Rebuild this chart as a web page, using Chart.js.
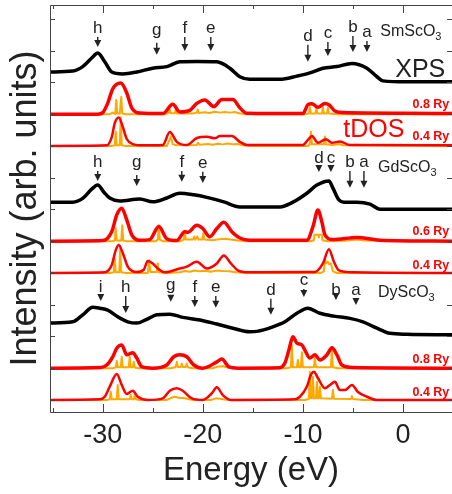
<!DOCTYPE html>
<html>
<head>
<meta charset="utf-8">
<script src="https://cdn.jsdelivr.net/npm/chart.js@4.4.1/dist/chart.umd.min.js"></script>
<style>
  body { margin: 0; background: #fff; }
  #wrap { width: 452px; height: 494px; }
</style>
</head>
<body>
<div id="wrap"><canvas id="chart" width="452" height="494"></canvas></div>
<script>
// energy (eV), intensity (offset, arb. units) pairs
const smXps = [[-35.3,10.33],[-33,10.36],[-32,10.5],[-31.1,10.77],[-30.5,10.93],[-29.8,10.65],[-29.1,10.33],[-28,10.27],[-26.6,10.33],[-25,10.45],[-23.6,10.5],[-22.3,10.65],[-20.6,10.66],[-18.6,10.65],[-17.3,10.45],[-16.3,10.18],[-15.3,10.1],[-12.3,10.1],[-10.6,10.2],[-9.3,10.3],[-8,10.45],[-6.6,10.5],[-5.1,10.6],[-3.6,10.45],[-2.6,10.18],[-2,10.05],[0.4,10.02],[4.9,10.02]];
const smRed08 = [[-35.3,9.0],[-30.5,9.0],[-30.0,9.05],[-29.5,9.35],[-29.0,9.8],[-28.2,9.98],[-27.6,9.67],[-27.1,9.2],[-26.3,9.04],[-24.0,9.02],[-23.0,9.31],[-22.3,9.07],[-21.3,9.12],[-20.6,9.34],[-19.8,9.45],[-18.9,9.24],[-18.1,9.46],[-17.0,9.46],[-16.3,9.2],[-15.6,9.03],[-10.0,9.02],[-9.5,9.3],[-9.1,9.33],[-8.5,9.22],[-7.8,9.34],[-7.4,9.3],[-6.8,9.1],[-6.0,9.05],[0,9.03],[4.9,9.02]];
const smOrange08 = [[-35.3,9],[-29.3,9],[-29.0,9.05],[-28.75,9.0],[-28.65,9.45],[-28.55,9.02],[-28.3,9.02],[-28.15,9.55],[-28.05,9.02],[-27.7,9.0],[-23.8,9.0],[-23.4,9.05],[-23.3,9.15],[-23.2,9.03],[-22.8,9.03],[-22.7,9.15],[-22.6,9.02],[-21.0,9.02],[-20.6,9.05],[-20.5,9.15],[-20.4,9.04],[-19.8,9.06],[-19.3,9.04],[-18.8,9.08],[-18.3,9.05],[-17.8,9.07],[-17.3,9.05],[-16.8,9.07],[-16.3,9.02],[-15.5,9.0],[-9.8,9.0],[-9.4,9.02],[-9.3,9.22],[-9.2,9.02],[-8.75,9.02],[-8.65,9.2],[-8.55,9.02],[-8.1,9.02],[-8.0,9.22],[-7.9,9.02],[-7.6,9.02],[-7.5,9.2],[-7.4,9.02],[-6.5,9.0],[4.9,9.0]];
const smRed04 = [[-35.3,8.0],[-29.6,8.02],[-29.1,8.28],[-28.8,8.72],[-28.4,8.9],[-28.0,8.6],[-27.6,8.22],[-27.0,8.06],[-26.0,8.02],[-24.0,8.03],[-23.3,8.44],[-22.6,8.13],[-21.6,8.03],[-20.6,8.25],[-19.6,8.29],[-18.8,8.24],[-18.3,8.31],[-17.1,8.31],[-16.3,8.13],[-15.6,8.03],[-10.0,8.03],[-9.5,8.19],[-9.1,8.31],[-8.5,8.1],[-7.7,8.21],[-7.1,8.1],[-6.3,8.14],[-5.3,8.03],[4.9,8.02]];
const smOrange04 = [[-35.3,8],[-29.1,8],[-28.8,8.02],[-28.7,8.45],[-28.6,8.02],[-28.3,8.02],[-28.2,8.9],[-28.1,8.02],[-27.7,8.0],[-23.6,8.0],[-23.3,8.2],[-23.2,8.3],[-23.0,8.05],[-22.6,8.02],[-20.6,8.03],[-20.5,8.1],[-20.3,8.04],[-19.5,8.06],[-19.0,8.04],[-18.5,8.07],[-18.0,8.05],[-17.5,8.08],[-17.0,8.05],[-16.5,8.06],[-16.0,8.02],[-15.3,8.0],[-9.5,8.0],[-9.3,8.05],[-9.2,8.45],[-9.1,8.05],[-8.5,8.05],[-7.9,8.05],[-7.8,8.3],[-7.7,8.05],[-7.0,8.03],[-6.4,8.06],[-6.0,8.02],[4.9,8.0]];

const gdXps = [[-35.3,6.23],[-33,6.23],[-32,6.35],[-31.1,6.64],[-30.5,6.77],[-29.9,6.55],[-29.3,6.36],[-28.3,6.27],[-26.3,6.33],[-25,6.24],[-23.6,6.36],[-22.3,6.51],[-20.9,6.46],[-19.6,6.38],[-17.9,6.24],[-16.3,6.08],[-12.3,6.08],[-11,6.23],[-9.6,6.51],[-8.6,6.77],[-7.4,6.9],[-7.0,6.67],[-6.4,6.3],[-5.9,6.23],[-4.6,6.23],[-3.3,6.17],[-2.3,6.01],[4.9,6.01]];
const gdRed06 = [[-35.3,5.0],[-30.0,5.02],[-29.1,5.3],[-28.6,5.83],[-28.1,6.04],[-27.6,5.67],[-27.1,5.2],[-26.3,5.03],[-25.3,5.05],[-24.4,5.46],[-23.6,5.08],[-22.6,5.02],[-21.8,5.3],[-21.5,5.28],[-20.6,5.5],[-20.0,5.4],[-19.3,5.14],[-18.6,5.4],[-17.9,5.6],[-17.1,5.3],[-16.3,5.1],[-15.3,5.03],[-9.6,5.03],[-9.0,5.45],[-8.5,5.98],[-8.1,5.6],[-7.8,5.2],[-7.0,5.05],[-4.6,5.12],[-2.3,5.03],[4.9,5.0]];
const gdOrange06 = [[-35.3,5],[-29.1,5],[-28.8,5.02],[-28.7,5.4],[-28.6,5.02],[-28.15,5.02],[-28.05,5.5],[-27.95,5.02],[-27.6,5.0],[-24.7,5.0],[-24.5,5.05],[-24.4,5.5],[-24.3,5.05],[-24.0,5.0],[-22.2,5.0],[-21.9,5.05],[-21.8,5.3],[-21.7,5.05],[-21.0,5.05],[-20.85,5.15],[-20.75,5.05],[-20.55,5.15],[-20.45,5.05],[-20.05,5.05],[-19.95,5.25],[-19.85,5.05],[-19.0,5.03],[-18.4,5.06],[-17.8,5.08],[-17.2,5.05],[-16.5,5.02],[-15.5,5.0],[-9.2,5.0],[-8.9,5.03],[-8.85,5.2],[-8.45,5.2],[-8.4,5.12],[-8.35,5.2],[-8.1,5.2],[-8.05,5.03],[-7.5,5.0],[-5.5,5.02],[-4.6,5.05],[-3.8,5.02],[4.9,5.0]];
const gdRed04 = [[-35.3,4.0],[-29.8,4.02],[-29.1,4.25],[-28.7,4.72],[-28.4,4.88],[-28.0,4.63],[-27.5,4.2],[-26.6,4.03],[-25.9,4.1],[-25.5,4.38],[-25.0,4.3],[-24.5,4.14],[-23.8,4.02],[-22.3,4.14],[-21.6,4.2],[-20.6,4.35],[-19.6,4.14],[-18.6,4.3],[-17.9,4.55],[-17.2,4.3],[-16.5,4.08],[-15.5,4.02],[-8.8,4.03],[-8.0,4.3],[-7.4,4.75],[-6.9,4.35],[-6.4,4.08],[-5.0,4.02],[4.9,4.0]];
const gdOrange04 = [[-35.3,4],[-29.2,4],[-28.9,4.02],[-28.8,4.45],[-28.7,4.02],[-28.35,4.02],[-28.25,4.85],[-28.15,4.02],[-27.7,4.0],[-25.5,4.0],[-25.35,4.4],[-25.25,4.03],[-24.6,4.03],[-24.5,4.3],[-24.4,4.02],[-23.5,4.0],[-22.3,4.02],[-21.8,4.06],[-21.3,4.04],[-20.8,4.08],[-20.3,4.05],[-19.8,4.07],[-19.2,4.04],[-18.6,4.08],[-18.0,4.06],[-17.4,4.05],[-16.7,4.02],[-15.5,4.0],[-8.2,4.0],[-7.9,4.05],[-7.8,4.45],[-7.7,4.3],[-7.5,4.35],[-7.4,4.28],[-7.2,4.3],[-7.0,4.05],[-6.6,4.0],[4.9,4.0]];

const dyXps = [[-35.3,2.42],[-33,2.46],[-32,2.68],[-31,2.92],[-30.3,2.89],[-29.5,2.83],[-28.5,2.62],[-27.5,2.46],[-26.6,2.42],[-25.6,2.54],[-24.6,2.68],[-23.3,2.7],[-22,2.6],[-20.3,2.52],[-18.6,2.39],[-17,2.26],[-15.3,2.15],[-14.6,2.16],[-13,2.3],[-11.8,2.46],[-10.6,2.73],[-9.5,2.89],[-8.3,2.73],[-6.9,2.64],[-5.3,2.57],[-4,2.46],[-2.6,2.26],[-1.3,2.1],[0.4,2.07],[4.9,2.05]];
const dyRed08 = [[-35.3,1.0],[-30.2,1.02],[-29.6,1.1],[-29.0,1.36],[-28.6,1.63],[-28.1,1.73],[-27.6,1.42],[-27.0,1.49],[-26.6,1.32],[-26.1,1.05],[-25.0,1.0],[-23.6,1.1],[-22.9,1.36],[-22.3,1.42],[-21.6,1.36],[-20.9,1.1],[-20.0,1.0],[-18.6,1.2],[-18.1,1.29],[-17.4,1.04],[-16.5,1.0],[-12.3,1.01],[-11.8,1.16],[-11.4,1.57],[-11.0,1.99],[-10.6,1.79],[-10.1,1.73],[-9.8,1.57],[-9.3,1.32],[-8.8,1.42],[-8.3,1.26],[-7.6,1.42],[-7.1,1.64],[-6.6,1.42],[-6.1,1.1],[-5.0,1.02],[4.9,1.0]];
const dyOrange08 = [[-35.3,1],[-29.0,1],[-28.7,1.02],[-28.6,1.23],[-28.5,1.03],[-28.2,1.03],[-28.1,1.36],[-28.0,1.03],[-27.4,1.03],[-27.3,1.36],[-27.2,1.03],[-27.0,1.03],[-26.9,1.2],[-26.8,1.02],[-26.4,1.0],[-23.2,1.0],[-22.7,1.04],[-22.6,1.2],[-22.5,1.04],[-22.2,1.04],[-22.1,1.15],[-22.0,1.04],[-21.7,1.04],[-21.6,1.15],[-21.5,1.03],[-21.0,1.0],[-19.0,1.0],[-18.5,1.05],[-18.0,1.06],[-17.5,1.02],[-16.5,1.0],[-11.6,1.0],[-11.2,1.03],[-11.1,1.73],[-11.0,1.03],[-10.6,1.03],[-10.5,1.26],[-10.4,1.03],[-10.2,1.03],[-10.1,1.5],[-10.0,1.03],[-8.9,1.03],[-8.8,1.32],[-8.7,1.03],[-7.2,1.03],[-7.1,1.57],[-7.0,1.03],[-6.5,1.0],[4.9,1.0]];
const dyRed04 = [[-35.3,0],[-30.3,0.02],[-29.8,0.1],[-29.3,0.42],[-28.6,0.82],[-28.1,0.47],[-27.6,0.19],[-27.0,0.29],[-26.5,0.1],[-25.5,0.0],[-24.0,0.05],[-23.3,0.29],[-22.6,0.37],[-22.0,0.29],[-21.1,0.05],[-20.0,0.0],[-19.1,0.21],[-18.6,0.4],[-18.0,0.15],[-17.2,0.0],[-10.8,0.02],[-10.3,0.1],[-9.6,0.42],[-9.2,0.79],[-8.9,0.89],[-8.5,0.69],[-7.8,0.37],[-7.3,0.47],[-6.8,0.57],[-6.3,0.31],[-5.8,0.31],[-5.1,0.47],[-4.5,0.25],[-3.6,0.1],[-2.6,0.0],[4.9,0.0]];
const dyOrange04 = [[-35.3,0],[-29.6,0],[-29.3,0.02],[-29.2,0.25],[-29.1,0.02],[-28.6,0.02],[-28.5,0.47],[-28.4,0.02],[-27.3,0.02],[-27.2,0.16],[-27.1,0.02],[-26.9,0.02],[-26.8,0.16],[-26.7,0.02],[-26.3,0],[-23.6,0.0],[-23.2,0.06],[-22.8,0.1],[-22.4,0.07],[-21.8,0.05],[-21.0,0.0],[-19.2,0.0],[-18.7,0.05],[-18.3,0.04],[-17.5,0.0],[-9.8,0.0],[-9.4,0.03],[-9.3,0.89],[-9.2,0.05],[-9.1,0.05],[-9.0,0.73],[-8.9,0.05],[-8.7,0.05],[-8.6,0.57],[-8.5,0.05],[-8.4,0.05],[-8.3,0.42],[-8.2,0.05],[-7.1,0.04],[-7.0,0.31],[-6.9,0.04],[-5.2,0.03],[-5.1,0.12],[-5.0,0.03],[-4.0,0.0],[4.9,0.0]];

// axis ticks
const xLabelTicks = [-30, -20, -10, 0];
const xMinorTicks = [-35, -25, -15, -5];
const yTicks = [0,1,2,3,4,5,6,7,8,9,10,11,12];

// peak markers: [letter, energy, label baseline, arrow tip]
const smArrows = [['h',-30.5,11.56,11.12],['g',-24.6,11.5,10.87],['f',-21.8,11.56,10.99],['e',-19.2,11.56,10.99],['d',-9.5,11.31,10.65],['c',-7.5,11.4,10.83],['b',-5.0,11.59,10.96],['a',-3.6,11.43,10.96]];
const gdArrows = [['h',-30.5,7.34,6.9],['g',-26.6,7.34,6.74],['f',-22.1,7.34,6.87],['e',-20.0,7.31,6.83],['d',-8.4,7.46,7.18],['c',-7.2,7.46,7.18],['b',-5.3,7.34,6.68],['a',-3.9,7.34,6.68]];
const dyArrows = [['i',-30.2,3.4,3.12],['h',-27.7,3.4,2.74],['g',-23.2,3.46,3.09],['f',-20.8,3.4,2.93],['e',-18.7,3.4,2.9],['d',-13.2,3.31,2.68],['c',-9.9,3.62,3.24],['b',-6.7,3.31,3.15],['a',-4.7,3.31,2.99]];
const materials = [['SmScO','3',-2.27,11.46],['GdScO','3',-2.5,7.18],['DyScO','3',-2.5,3.24]];
const ryLabels = [['0.8 Ry',9.2],['0.4 Ry',8.19],['0.6 Ry',5.2],['0.4 Ry',4.13],['0.8 Ry',1.17],['0.4 Ry',0.13]];

const FONT = "'Liberation Sans', Arial, Helvetica, sans-serif";
const pts = a => a.map(p => ({x: p[0], y: p[1]}));

function line(data, color, width, order, smooth) {
  return {
    data: pts(data),
    borderColor: color,
    borderWidth: width,
    pointRadius: 0,
    fill: false,
    order: order,
    tension: smooth ? 0.4 : 0,
    cubicInterpolationMode: smooth ? 'monotone' : 'default',
    borderJoinStyle: 'round',
  };
}

const BLACK = '#000000', RED = '#ff0000', ORANGE = '#ffa800';

const decor = {
  id: 'decor',
  afterDraw(chart) {
    const ctx = chart.ctx;
    const xs = chart.scales.x, ys = chart.scales.y;
    const a = chart.chartArea;
    ctx.save();
    // frame
    ctx.strokeStyle = '#444';
    ctx.lineWidth = 1;
    ctx.beginPath();
    ctx.moveTo(a.left + 0.5, a.top + 0.5);
    ctx.lineTo(a.left + 0.5, a.bottom + 0.5);
    ctx.lineTo(a.right, a.bottom + 0.5);
    ctx.moveTo(a.left + 0.5, a.top + 0.5);
    ctx.lineTo(a.right, a.top + 0.5);
    // inward ticks
    const tickX = (v, len) => {
      const px = Math.round(xs.getPixelForValue(v)) + 0.5;
      ctx.moveTo(px, a.bottom); ctx.lineTo(px, a.bottom - len);
      ctx.moveTo(px, a.top); ctx.lineTo(px, a.top + len);
    };
    xLabelTicks.forEach(v => tickX(v, 8));
    xMinorTicks.forEach(v => tickX(v, 4));
    yTicks.forEach(v => {
      const py = Math.round(ys.getPixelForValue(v)) + 0.5;
      ctx.moveTo(a.left, py); ctx.lineTo(a.left + 5, py);
      ctx.moveTo(a.right, py); ctx.lineTo(a.right - 5, py);
    });
    ctx.stroke();

    // peak markers
    ctx.fillStyle = '#222';
    ctx.strokeStyle = '#111';
    ctx.textAlign = 'center';
    ctx.textBaseline = 'alphabetic';
    ctx.font = '17px ' + FONT;
    [smArrows, gdArrows, dyArrows].forEach(set => set.forEach(m => {
      const px = xs.getPixelForValue(m[1]);
      const base = ys.getPixelForValue(m[2]);
      const tip = ys.getPixelForValue(m[3]);
      ctx.fillText(m[0], px, base);
      const start = base + (m[0] === 'g' ? 8 : 4);
      ctx.lineWidth = 1.3;
      ctx.beginPath();
      ctx.moveTo(px, start);
      ctx.lineTo(px, tip - 5);
      ctx.stroke();
      ctx.beginPath();
      ctx.moveTo(px - 3.5, tip - 7);
      ctx.lineTo(px + 3.5, tip - 7);
      ctx.lineTo(px, tip);
      ctx.closePath();
      ctx.fill();
    }));

    // compound names
    ctx.textAlign = 'left';
    materials.forEach(m => {
      const px = xs.getPixelForValue(m[2]);
      const py = ys.getPixelForValue(m[3]);
      ctx.font = '16px ' + FONT;
      ctx.fillText(m[0], px, py);
      const w = ctx.measureText(m[0]).width;
      ctx.font = '11px ' + FONT;
      ctx.fillText(m[1], px + w, py + 4);
    });

    ctx.font = '25px ' + FONT;
    ctx.fillStyle = '#222';
    ctx.fillText('XPS', xs.getPixelForValue(-0.77), ys.getPixelForValue(10.17));
    ctx.fillStyle = RED;
    ctx.fillText('tDOS', xs.getPixelForValue(-5.97), ys.getPixelForValue(8.28));

    ctx.textAlign = 'right';
    ctx.font = 'bold 12.5px ' + FONT;
    ryLabels.forEach(r => {
      ctx.fillText(r[0], xs.getPixelForValue(4.63), ys.getPixelForValue(r[1]));
    });
    ctx.restore();
  }
};

new Chart(document.getElementById('chart'), {
  type: 'line',
  data: {
    datasets: [
      line(smXps, BLACK, 3.5, 0, true),
      line(smRed08, RED, 3.5, 1, true),
      line(smOrange08, ORANGE, 2, 2, false),
      line(smRed04, RED, 2.5, 1, true),
      line(smOrange04, ORANGE, 2, 2, false),
      line(gdXps, BLACK, 3.5, 0, true),
      line(gdRed06, RED, 3.5, 1, true),
      line(gdOrange06, ORANGE, 2, 2, false),
      line(gdRed04, RED, 2.5, 1, true),
      line(gdOrange04, ORANGE, 2, 2, false),
      line(dyXps, BLACK, 3.5, 0, true),
      line(dyRed08, RED, 3.5, 1, true),
      line(dyOrange08, ORANGE, 2, 2, false),
      line(dyRed04, RED, 2.5, 1, true),
      line(dyOrange04, ORANGE, 2, 2, false),
    ]
  },
  options: {
    responsive: false,
    animation: false,
    events: [],
    layout: { padding: { top: 5, left: 0, right: 0, bottom: 0 } },
    plugins: { legend: { display: false }, tooltip: { enabled: false } },
    scales: {
      x: {
        type: 'linear',
        min: -35.27,
        max: 4.9,
        grid: { display: false, drawTicks: false },
        border: { display: false },
        afterBuildTicks: s => { s.ticks = xLabelTicks.map(v => ({ value: v })); },
        ticks: {
          font: { family: FONT, size: 27 },
          color: '#222',
          padding: 7,
          maxRotation: 0,
          callback: v => String(v)
        },
        title: {
          display: true,
          text: 'Energy (eV)',
          font: { family: FONT, size: 33 },
          color: '#222',
          padding: { top: 0, bottom: 3 }
        },
        afterFit: s => { s.height = 82; }
      },
      y: {
        type: 'linear',
        min: -0.38,
        max: 12.44,
        grid: { display: false, drawTicks: false },
        border: { display: false },
        ticks: { display: false },
        title: {
          display: true,
          text: 'Intensity (arb. units)',
          font: { family: FONT, size: 36 },
          color: '#222',
          padding: { top: 4, bottom: 0 }
        },
        afterFit: s => { s.width = 50; }
      }
    }
  },
  plugins: [decor]
});
</script>
</body>
</html>
